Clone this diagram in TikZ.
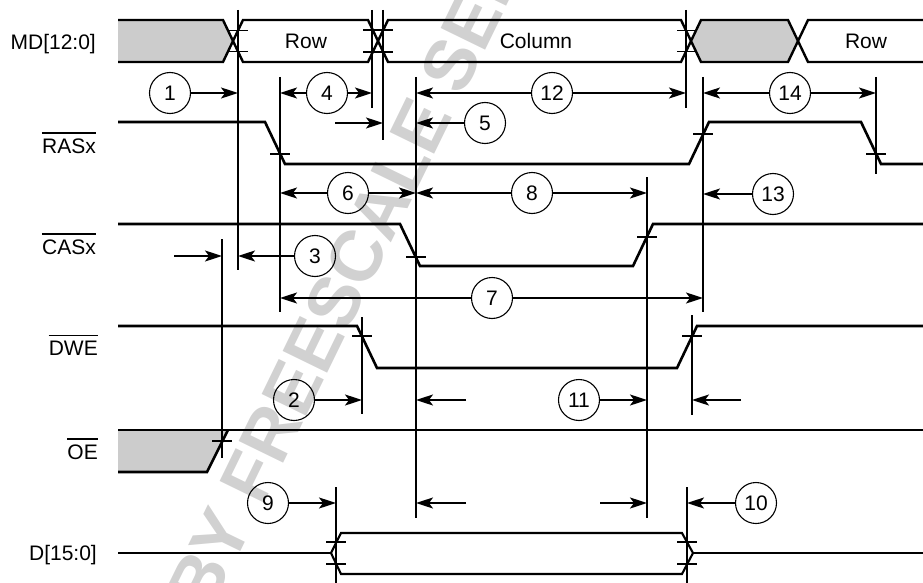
\documentclass[tikz,border=0pt]{standalone}
\usepackage{fontspec}
\setmainfont{Liberation Sans}
\usetikzlibrary{arrows.meta,calc}
\begin{document}
\begin{tikzpicture}[x=1pt,y=-1pt,
  sig/.style={line width=2.6pt},
  bus/.style={line width=2.4pt},
  dbus/.style={line width=2.1pt},
  vline/.style={line width=1.8pt},
  tickm/.style={line width=1.4pt},
  ovl/.style={line width=1.4pt},
  dimarrow/.style={line width=1.8pt,-{Stealth[length=17pt,width=11pt,inset=4pt]}},
  num/.style={circle,draw,line width=1.1pt,minimum size=41pt,inner sep=0pt,font=\fontsize{21}{24}\selectfont},
  lab/.style={anchor=base east,inner sep=0pt,font=\fontsize{21}{24}\selectfont},
  txt/.style={inner sep=0pt,font=\fontsize{21}{24}\selectfont},
  wmark/.style={rotate=64,inner sep=0pt,text=black!18,font=\fontsize{72}{80}\selectfont\bfseries},
  grayfill/.style={fill=black!20}
]
\useasboundingbox (0,0) rectangle (923,583);

% watermark
\begin{scope}
  \clip (0,0) rectangle (923,583);
  \node[wmark] (wm) at (348,275) {BY FREESCALE SEM};
\end{scope}

% ---------- signal labels ----------
\node[lab] (lMD)  at (96,49.5)  {MD[12:0]};
\node[lab] (lRAS) at (96,153.5) {RASx};
\node[lab] (lCAS) at (96,254.5) {CASx};
\node[lab] (lDWE) at (98,355.5) {DWE};
\node[lab] (lOE)  at (98,459.5) {OE};
\node[lab] (lD)   at (97,560.5) {D[15:0]};
\draw[ovl] ($(lRAS.north west)+(0,-5.5)$) -- ($(lRAS.north east)+(0,-5.5)$);
\draw[ovl] ($(lCAS.north west)+(0,-5.5)$) -- ($(lCAS.north east)+(0,-5.5)$);
\draw[ovl] ($(lDWE.north west)+(0,-5.5)$) -- ($(lDWE.north east)+(0,-5.5)$);
\draw[ovl] ($(lOE.north west)+(0,-5.5)$) -- ($(lOE.north east)+(0,-5.5)$);

% ---------- MD bus ----------
\fill[grayfill] (118,20) -- (223,20) -- (233,41) -- (223,62) -- (118,62) -- cycle;
\draw[bus] (118,20) -- (223,20) -- (233,41) -- (223,62) -- (118,62);
\draw[bus] (233,41) -- (243,20) -- (368,20) -- (378,41) -- (368,62) -- (243,62) -- cycle;
\draw[bus] (378,41) -- (388,20) -- (681,20) -- (691,41) -- (681,62) -- (388,62) -- cycle;
\filldraw[bus,grayfill] (691,41) -- (701,20) -- (788,20) -- (798,41) -- (788,62) -- (701,62) -- cycle;
\draw[bus] (923,20) -- (808,20) -- (798,41) -- (808,62) -- (923,62);
\node[txt] (tRow1) at (306,41) {Row};
\node[txt] (tCol)  at (536,41) {Column};
\node[txt] (tRow2) at (866,41) {Row};

% ---------- RASx ----------
\draw[sig] (118,122) -- (265,122) -- (285,164) -- (689,164) -- (709,122) -- (861,122) -- (881,164) -- (923,164);
% ---------- CASx ----------
\draw[sig] (118,224) -- (400,224) -- (420,266) -- (633,266) -- (653,224) -- (923,224);
% ---------- DWE ----------
\draw[sig] (118,326) -- (357,326) -- (377,368) -- (677,368) -- (697,326) -- (923,326);
% ---------- OE ----------
\fill[grayfill] (118,430) -- (228,430) -- (207,472) -- (118,472) -- cycle;
\draw[sig] (118,472) -- (207,472) -- (228,430);
\draw[sig] (118,430) -- (923,430);
% ---------- D ----------
\draw[sig] (118,553) -- (331,553);
\draw[dbus] (331,553) -- (341,533) -- (682,533) -- (693,553) -- (682,574) -- (341,574) -- cycle;
\draw[sig] (693,553) -- (923,553);

% ---------- vertical timing lines ----------
\coordinate (vAt) at (238,10);  \coordinate (vAb) at (238,270);
\coordinate (vBt) at (372,10);  \coordinate (vBb) at (372,108);
\coordinate (vCt) at (383,10);  \coordinate (vCb) at (383,140);
\coordinate (vDt) at (686,10);  \coordinate (vDb) at (686,108);
\coordinate (vEt) at (280,77);  \coordinate (vEb) at (280,312);
\coordinate (vFt) at (416,77);  \coordinate (vFb) at (416,518);
\coordinate (vGt) at (703,77);  \coordinate (vGb) at (703,312);
\coordinate (vHt) at (876,77);  \coordinate (vHb) at (876,174);
\coordinate (vIt) at (647,177); \coordinate (vIb) at (647,518);
\coordinate (vJt) at (222,239); \coordinate (vJb) at (222,458);
\coordinate (vKt) at (362,317); \coordinate (vKb) at (362,414);
\coordinate (vLt) at (692,315); \coordinate (vLb) at (692,415);
\coordinate (vMt) at (336,487); \coordinate (vMb) at (336,583);
\coordinate (vNt) at (687,487); \coordinate (vNb) at (687,583);
\foreach \v in {A,B,C,D,E,F,G,H,I,J,K,L,M,N}{\draw[vline] (v\v t) -- (v\v b);}

% ---------- ticks ----------
\foreach \x/\y/\h in {238/30.5/10, 238/51.5/10, 378/30/15, 378/52/15, 686/30.5/9, 686/51.5/9,
  280/154/10, 703/134/10, 876/154/10, 416/257/10, 647/237/10, 362/336/10, 692/336/10,
  222/441/10, 336/542/10, 336/564/10, 687/542/10, 687/564/10}
  {\draw[tickm] (\x-\h,\y) -- (\x+\h,\y);}

% ---------- numbered dimensions ----------
\node[num] (c1)  at (170,93)  {1};
\node[num] (c4)  at (327,93)  {4};
\node[num] (c12) at (552,93)  {12};
\node[num] (c14) at (790,93)  {14};
\node[num] (c5)  at (485,123) {5};
\node[num] (c6)  at (348,193) {6};
\node[num] (c8)  at (532,193) {8};
\node[num] (c13) at (773,194) {13};
\node[num] (c3)  at (315,256) {3};
\node[num] (c7)  at (492,298) {7};
\node[num] (c2)  at (294,400) {2};
\node[num] (c11) at (579,400) {11};
\node[num] (c9)  at (268,503) {9};
\node[num] (c10) at (756,503) {10};

% arrow end points
\coordinate (a1)   at (238,93);
\coordinate (a4l)  at (280,93);  \coordinate (a4r)  at (372,93);
\coordinate (a12l) at (416,93);  \coordinate (a12r) at (686,93);
\coordinate (a14l) at (703,93);  \coordinate (a14r) at (876,93);
\coordinate (s5)   at (335,123); \coordinate (a5l) at (383,123); \coordinate (a5r) at (416,123);
\coordinate (a6l)  at (280,193); \coordinate (a6r) at (416,193);
\coordinate (a8l)  at (416,193); \coordinate (a8r) at (647,193);
\coordinate (a13)  at (703,194);
\coordinate (s3)   at (174,256); \coordinate (a3l) at (222,256); \coordinate (a3r) at (238,256);
\coordinate (a7l)  at (280,298); \coordinate (a7r) at (703,298);
\coordinate (a2)   at (362,400);
\coordinate (s2b)  at (466,400); \coordinate (a2b) at (416,400);
\coordinate (a11)  at (647,400);
\coordinate (s11b) at (741,400); \coordinate (a11b) at (692,400);
\coordinate (a9)   at (336,503);
\coordinate (s9b)  at (466,503); \coordinate (a9b) at (416,503);
\coordinate (s9c)  at (600,503); \coordinate (a9c) at (647,503);
\coordinate (a10)  at (687,503);

\draw[dimarrow] (c1) -- (a1);
\draw[dimarrow] (c4) -- (a4l);  \draw[dimarrow] (c4) -- (a4r);
\draw[dimarrow] (c12) -- (a12l); \draw[dimarrow] (c12) -- (a12r);
\draw[dimarrow] (c14) -- (a14l); \draw[dimarrow] (c14) -- (a14r);
\draw[dimarrow] (s5) -- (a5l);
\draw[dimarrow] (c5) -- (a5r);
\draw[dimarrow] (c6) -- (a6l);  \draw[dimarrow] (c6) -- (a6r);
\draw[dimarrow] (c8) -- (a8l);  \draw[dimarrow] (c8) -- (a8r);
\draw[dimarrow] (c13) -- (a13);
\draw[dimarrow] (s3) -- (a3l);
\draw[dimarrow] (c3) -- (a3r);
\draw[dimarrow] (c7) -- (a7l);  \draw[dimarrow] (c7) -- (a7r);
\draw[dimarrow] (c2) -- (a2);
\draw[dimarrow] (s2b) -- (a2b);
\draw[dimarrow] (c11) -- (a11);
\draw[dimarrow] (s11b) -- (a11b);
\draw[dimarrow] (c9) -- (a9);
\draw[dimarrow] (s9b) -- (a9b);
\draw[dimarrow] (s9c) -- (a9c);
\draw[dimarrow] (c10) -- (a10);
\end{tikzpicture}
\end{document}
